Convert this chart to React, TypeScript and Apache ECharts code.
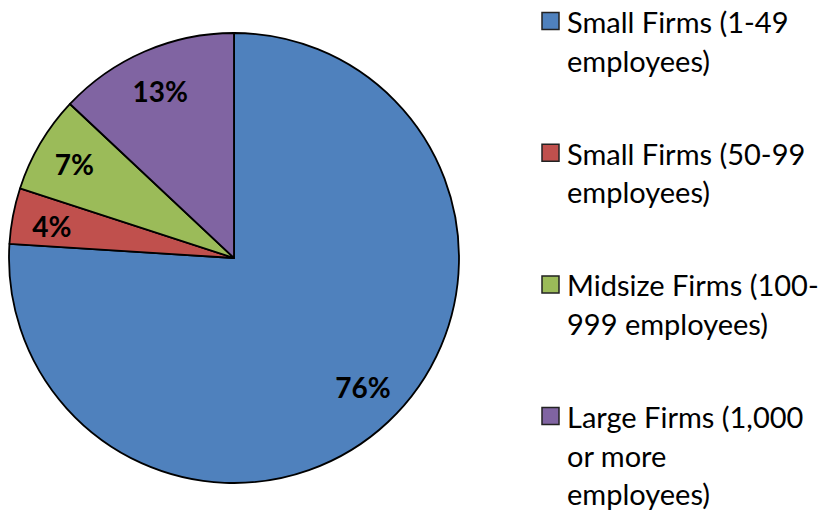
import React, { useEffect, useRef } from "react";
import * as echarts from "echarts";

const categories = [
  "Small Firms (1-49 employees)",
  "Small Firms (50-99 employees)",
  "Midsize Firms (100-999 employees)",
  "Large Firms (1,000 or more employees)",
];
const legendLines = [
  ["Small Firms (1-49", "employees)"],
  ["Small Firms (50-99", "employees)"],
  ["Midsize Firms (100-", "999 employees)"],
  ["Large Firms (1,000", "or more", "employees)"],
];
const values = [76, 4, 7, 13];
const colors = ["#4F81BD", "#C0504D", "#9BBB59", "#8064A2"];

const FONT = "Lato";

export default function App() {
  const ref = useRef<HTMLDivElement>(null);
  useEffect(() => {
    document.body.style.margin = "0";
    const chart = echarts.init(ref.current!, null, { renderer: "svg" });
    const data = categories.map((name, i) => ({
      name,
      value: values[i],
      itemStyle: { color: colors[i] },
    }));
    const legendX = 542;
    const firstBaseline = 32;
    const entryGap = 131.7;
    const lineGap = 38.5;
    const graphics: any[] = [];
    legendLines.forEach((lines, i) => {
      const base = firstBaseline + i * entryGap;
      graphics.push({
        type: "rect",
        shape: { x: legendX, y: base - 19.5, width: 17, height: 17 },
        style: { fill: colors[i], stroke: "#222", lineWidth: 1.5 },
      });
      lines.forEach((t, j) => {
        graphics.push({
          type: "text",
          x: 567,
          y: base + j * lineGap - 10.5,
          style: {
            text: t,
            font: `29px ${FONT}`,
            fill: "#000",
            textVerticalAlign: "middle",
            textAlign: "left",
          },
        });
      });
    });
    chart.setOption({
      animation: false,
      graphic: graphics,
      series: [
        {
          type: "pie",
          center: [234, 258],
          radius: 225,
          startAngle: 90,
          clockwise: true,
          silent: true,
          label: { show: false },
          labelLine: { show: false },
          itemStyle: { borderColor: "#000", borderWidth: 1.8 },
          emphasis: { disabled: true },
          data,
        },
        {
          type: "pie",
          center: [234, 258],
          radius: [140, 225],
          startAngle: 90,
          clockwise: true,
          silent: true,
          itemStyle: { color: "transparent", borderWidth: 0 },
          label: {
            show: true,
            position: "inside",
            formatter: "{c}%",
            fontFamily: FONT,
            fontWeight: "bold",
            fontSize: 28,
            color: "#000",
          },
          labelLine: { show: false },
          emphasis: { disabled: true },
          data: categories.map((name, i) => ({
            name,
            value: values[i],
            label: i === 0 ? { offset: [2, -6] } : i === 1 ? { offset: [0, 3] } : i === 3 ? { offset: [0, 3] } : {},
          })),
        },
      ],
    });
    return () => chart.dispose();
  }, []);
  return <div ref={ref} style={{ width: 822, height: 515 }} />;
}
